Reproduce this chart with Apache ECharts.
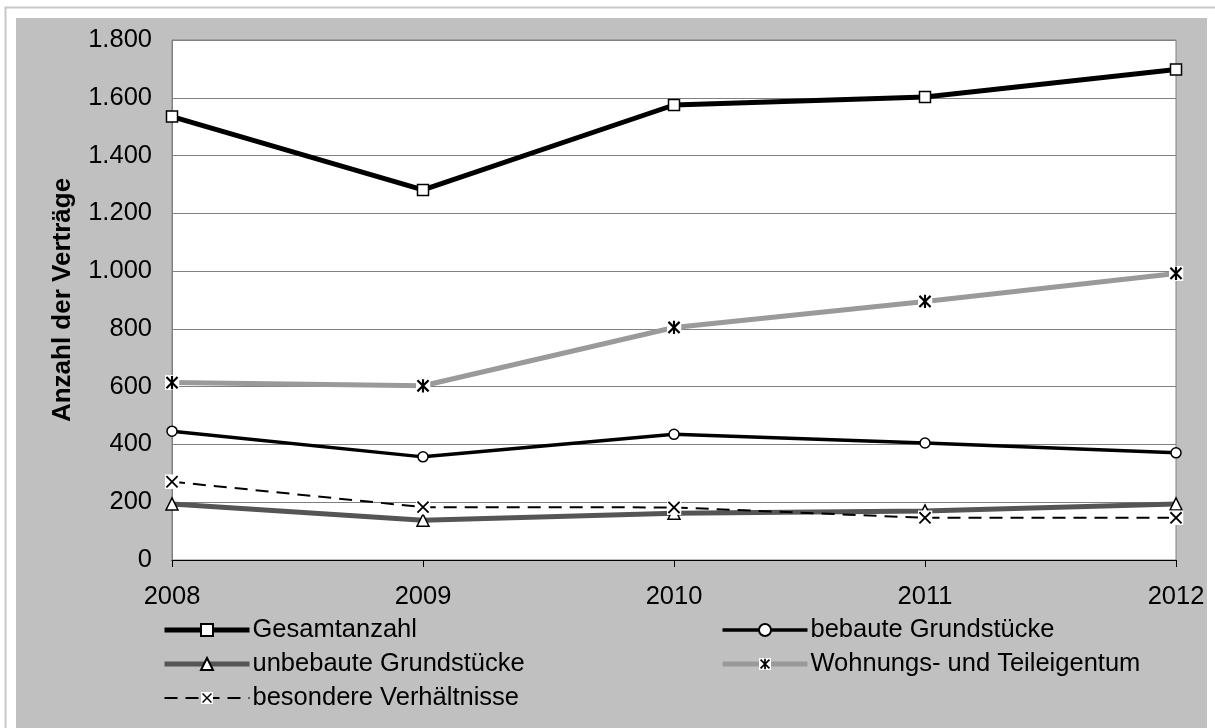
<!DOCTYPE html>
<html>
<head>
<meta charset="utf-8">
<title>Anzahl der Verträge 2008–2012</title>
<script src="https://cdn.jsdelivr.net/npm/echarts@6/dist/echarts.min.js"></script>
<style>
  html, body { margin: 0; padding: 0; background: #ffffff; }
  #chart { width: 1215px; height: 728px; }
</style>
</head>
<body>
<div id="chart"></div>
<script>
// Jahre (Kategorieachse)
const years = ['2008', '2009', '2010', '2011', '2012'];

// Anzahl der Verträge je Teilmarkt
const gesamtanzahl = [1535, 1281, 1575, 1603, 1698];
const bebaute = [446, 357, 435, 405, 371];
const unbebaute = [194, 138, 162, 170, 194];
const wohnungseigentum = [614, 603, 805, 895, 992];
const besondere = [271, 183, 182, 146, 146];

// Beschriftungen der Werteachse
const yTicks = [0, 200, 400, 600, 800, 1000, 1200, 1400, 1600, 1800];

const FONT = '"Liberation Sans", Arial, Helvetica, sans-serif';

// Markersymbole mit weißem Hintergrundfeld
function svgSymbol(body, size) {
  const svg = '<svg xmlns="http://www.w3.org/2000/svg" width="' + size + '" height="' + size +
    '" viewBox="0 0 ' + size + ' ' + size + '"><rect width="' + size + '" height="' + size +
    '" fill="#ffffff"/>' + body + '</svg>';
  return 'image://data:image/svg+xml;charset=utf-8,' + encodeURIComponent(svg);
}
const crossSymbol = svgSymbol('<path d="M1.8 1.8L12.2 12.2M12.2 1.8L1.8 12.2" stroke="#000" stroke-width="1.7" fill="none"/>', 14);
const starSymbol = svgSymbol('<path d="M1.8 1.8L12.2 12.2M12.2 1.8L1.8 12.2M7 0.8L7 13.2" stroke="#000" stroke-width="2" fill="none"/>', 14);

const chart = echarts.init(document.getElementById('chart'), null, { renderer: 'canvas' });

const whiteMarker = { color: '#ffffff', borderColor: '#000000', borderWidth: 1.5 };

// Linienstile der Reihen (auch für die Legende)
const styles = {
  'Gesamtanzahl': { color: '#000000', width: 5 },
  'bebaute Grundstücke': { color: '#000000', width: 3.5 },
  'unbebaute Grundstücke': { color: '#555555', width: 5 },
  'Wohnungs- und Teileigentum': { color: '#9a9a9a', width: 5 },
  'besondere Verhältnisse': { color: '#000000', width: 2, type: [13, 8] }
};

function legendItems(names) {
  return names.map(function (n) {
    return { name: n, lineStyle: styles[n] };
  });
}

const legendBase = {
  orient: 'vertical',
  top: 617,
  padding: 0,
  itemWidth: 85, itemHeight: 15, itemGap: 8,
  textStyle: { fontSize: 25.5, fontFamily: FONT, color: '#000000', padding: [0, 0, 0, -2] }
};

const option = {
  animation: false,
  backgroundColor: '#ffffff',
  textStyle: { fontFamily: FONT, color: '#000000' },
  graphic: [
    {
      type: 'rect', z: -10, silent: true,
      shape: { x: 5.5, y: 7.5, width: 1220, height: 740 },
      style: { fill: '#ffffff', stroke: '#c8c8c8', lineWidth: 2 }
    },
    {
      type: 'rect', z: -9, silent: true,
      shape: { x: 16, y: 18, width: 1191, height: 720 },
      style: { fill: '#c0c0c0' }
    }
  ],
  grid: {
    left: 172, right: 39, top: 40, bottom: 168,
    show: true, backgroundColor: '#ffffff', borderColor: '#808080', borderWidth: 1
  },
  xAxis: {
    type: 'category',
    data: years,
    boundaryGap: false,
    axisLine: { lineStyle: { color: '#000000', width: 1 } },
    axisTick: { show: true, length: 7, lineStyle: { color: '#000000' } },
    axisLabel: { fontSize: 25.5, fontFamily: FONT, color: '#000000', margin: 24 },
    splitLine: { show: false }
  },
  yAxis: {
    type: 'value',
    min: 0, max: 1800, interval: 200,
    name: 'Anzahl der Verträge',
    nameLocation: 'middle',
    nameGap: 96,
    nameTextStyle: { fontSize: 26, fontWeight: 'bold', fontFamily: FONT, color: '#000000' },
    axisLine: { show: true, lineStyle: { color: '#808080', width: 1 } },
    axisTick: { show: false },
    axisLabel: {
      fontSize: 25.5, fontFamily: FONT, color: '#000000', margin: 20,
      customValues: yTicks,
      formatter: function (v) {
        return String(v).replace(/\B(?=(\d{3})+(?!\d))/g, '.');
      }
    },
    splitLine: { show: true, lineStyle: { color: '#808080', width: 1 } }
  },
  legend: [
    Object.assign({}, legendBase, {
      left: 162,
      data: legendItems(['Gesamtanzahl', 'unbebaute Grundstücke', 'besondere Verhältnisse'])
    }),
    Object.assign({}, legendBase, {
      left: 720,
      data: legendItems(['bebaute Grundstücke', 'Wohnungs- und Teileigentum'])
    })
  ],
  series: [
    {
      name: 'Gesamtanzahl', type: 'line', data: gesamtanzahl,
      symbol: 'rect', symbolSize: 11,
      lineStyle: styles['Gesamtanzahl'],
      itemStyle: whiteMarker, z: 2
    },
    {
      name: 'bebaute Grundstücke', type: 'line', data: bebaute,
      symbol: 'circle', symbolSize: 10,
      lineStyle: styles['bebaute Grundstücke'],
      itemStyle: whiteMarker, z: 3
    },
    {
      name: 'unbebaute Grundstücke', type: 'line', data: unbebaute,
      symbol: 'triangle', symbolSize: 12,
      lineStyle: styles['unbebaute Grundstücke'],
      itemStyle: whiteMarker, z: 4
    },
    {
      name: 'Wohnungs- und Teileigentum', type: 'line', data: wohnungseigentum,
      symbol: starSymbol, symbolSize: 15,
      lineStyle: styles['Wohnungs- und Teileigentum'],
      itemStyle: { color: '#9a9a9a' }, z: 5
    },
    {
      name: 'besondere Verhältnisse', type: 'line', data: besondere,
      symbol: crossSymbol, symbolSize: 15,
      lineStyle: styles['besondere Verhältnisse'],
      itemStyle: { color: '#000000' }, z: 6
    }
  ]
};

chart.setOption(option);
</script>
</body>
</html>
